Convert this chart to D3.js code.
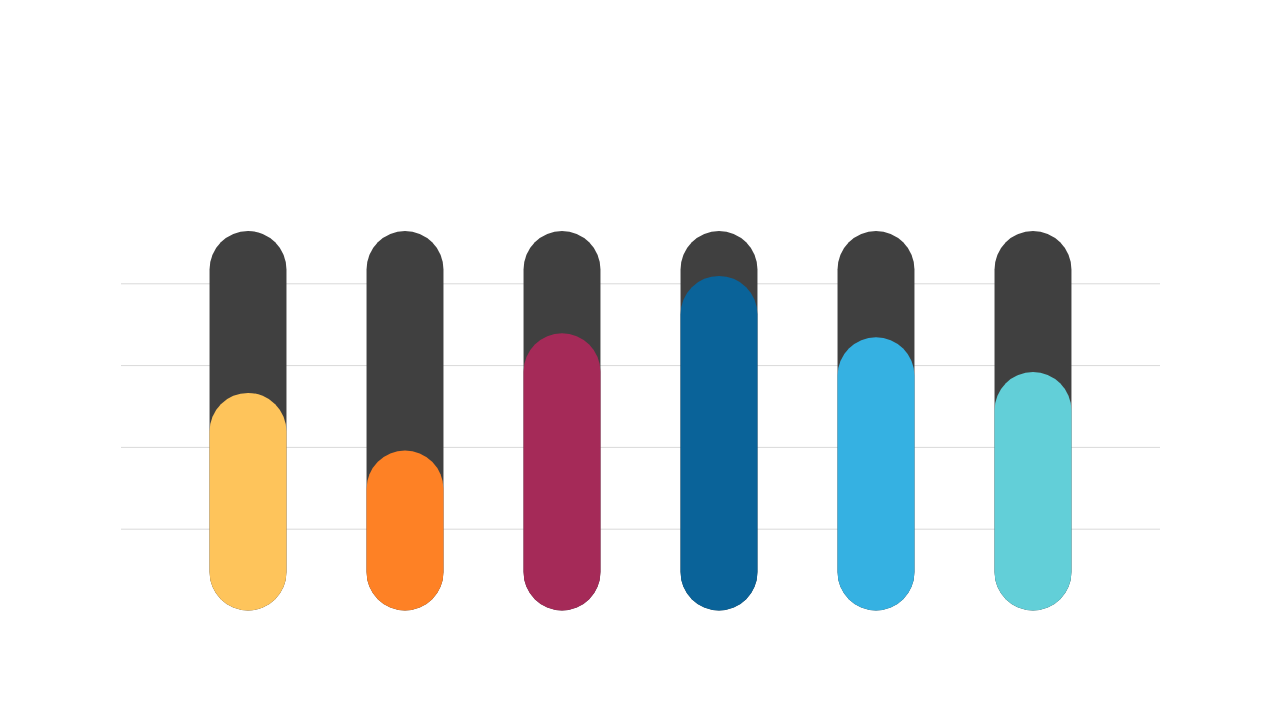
<!DOCTYPE html>
<html>
<head>
<meta charset="utf-8">
<script src="https://cdn.jsdelivr.net/npm/d3@7"></script>
<style>
  body { margin: 0; background: #fff; }
  svg { display: block; }
</style>
</head>
<body>
<div id="chart"></div>
<script>
// data
const categories = ["A", "B", "C", "D", "E", "F"];
const trackValues = [92.8, 92.8, 92.8, 92.8, 92.8, 92.8];
const seriesValues = [53.2, 39.1, 67.8, 81.8, 66.8, 58.3];
const barColors = ["#FEC45B", "#FE8125", "#A52A58", "#0A6399", "#35B1E2", "#62CFD8"];
const gridTicks = [20, 40, 60, 80];

const width = 1280;
const height = 720;
const margin = { top: 201.5, right: 120, bottom: 109.5, left: 121 };

const svg = d3.select('#chart')
  .append('svg')
  .attr('width', width)
  .attr('height', height);

const xScale = d3.scaleBand()
  .domain(categories)
  .range([margin.left, width - margin.right])
  .paddingInner(0.51)
  .paddingOuter(0.564);

const yScale = d3.scaleLinear()
  .domain([0, 100])
  .range([height - margin.bottom, margin.top]);

// gridlines
const yAxis = d3.axisLeft(yScale)
  .tickValues(gridTicks)
  .tickSize(-(width - margin.left - margin.right))
  .tickFormat("");

const grid = svg.append('g')
  .attr('class', 'grid')
  .attr('transform', `translate(${margin.left}, 0)`)
  .call(yAxis);
grid.select('.domain').remove();
grid.selectAll('line')
  .attr('stroke', '#d9d9d9')
  .attr('stroke-width', 1);

const bw = xScale.bandwidth();

// dark background pills
svg.append('g')
  .selectAll('rect')
  .data(trackValues)
  .join('rect')
  .attr('x', (d, i) => xScale(categories[i]))
  .attr('y', d => yScale(d))
  .attr('width', bw)
  .attr('height', d => yScale(0) - yScale(d))
  .attr('rx', bw / 2)
  .attr('ry', bw / 2)
  .attr('fill', '#404040');

// coloured value pills
svg.append('g')
  .selectAll('rect')
  .data(seriesValues)
  .join('rect')
  .attr('x', (d, i) => xScale(categories[i]))
  .attr('y', d => yScale(d))
  .attr('width', bw)
  .attr('height', d => yScale(0) - yScale(d))
  .attr('rx', bw / 2)
  .attr('ry', bw / 2)
  .attr('fill', (d, i) => barColors[i]);
</script>
</body>
</html>
